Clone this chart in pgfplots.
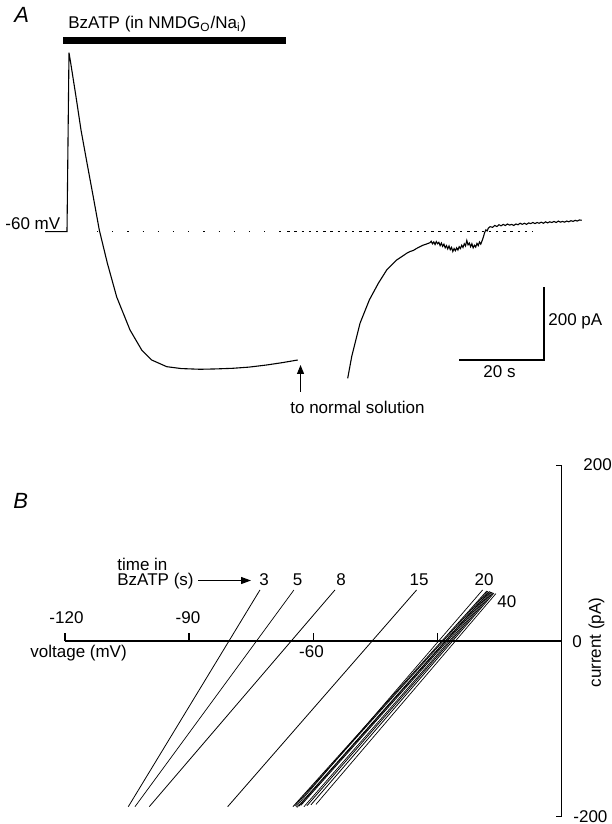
\documentclass[border=0pt]{standalone}
\usepackage{fontspec}
\setmainfont{Liberation Sans}
\usepackage{pgfplots}
\pgfplotsset{compat=1.18}
\usetikzlibrary{arrows.meta}
\begin{document}
\begin{tikzpicture}[x=0.5pt,y=-0.5pt,font=\fontsize{8.5pt}{10pt}\selectfont]
\useasboundingbox (0,0) rectangle (611,824);
% ---------------- Panel A : current trace (t in s, I in pA) ----------------
\begin{axis}[at={(0pt,0pt)}, anchor=north west, scale only axis,
  width=305.5pt, height=215pt,
  xmin=-15.82, xmax=128.45, ymin=-541.1, ymax=632.2,
  hide axis, clip=false]
% BzATP application bar
\addplot[black, line width=3.5pt, line cap=butt] coordinates {(-0.94,521.7) (51.71,521.7)};
% holding level (-60 mV) reference, dotted
\addplot[black, line width=0.5pt, dash pattern=on 0.6pt off 7pt] coordinates {(7.08,0) (52,0)};
\addplot[black, line width=0.5pt, dash pattern=on 1.2pt off 2.4pt] coordinates {(52,0) (110.04,0)};
% trace during BzATP
\addplot[black, line width=0.55pt] coordinates {
(-5.19,0) (0,0) (0.47,488.4) (0.874,460.3) (2.125,368.3) (3.306,277.5)
(4.722,187.4) (6.210,94.7) (7.627,4.6) (9.516,-85.4) (11.736,-178.2)
(14.876,-268.2) (17.639,-322.8) (20.0,-350.1) (23.542,-368.3)
(27.0,-373.5) (31.405,-375.4) (35.0,-374.5) (39.197,-372.7) (43.0,-369.5)
(47.155,-363.7) (51.0,-357.0) (54.475,-350.1)};
% trace after return to normal solution
\addplot[black, line width=0.55pt] coordinates {
(66.28,-400.0) (67.22,-341.1) (69.19,-249.9) (71.38,-186.4) (73.51,-140.8)
(75.49,-104.5) (77.85,-77.2) (80.21,-58.9) (81.0,-54) (81.8,-51) (82.5,-46)
(83.35,-40.9) (84.0,-37) (84.8,-34) (85.71,-30.0)
(86.0,-26) (86.3,-33) (86.6,-28) (86.9,-35) (87.2,-27) (87.5,-33) (87.8,-29)
(88.1,-38) (88.4,-31) (88.7,-40) (89.0,-34) (89.3,-44) (89.6,-38) (89.9,-47)
(90.2,-39) (90.5,-49) (90.8,-43) (91.1,-54) (91.4,-46) (91.7,-52) (92.0,-44)
(92.3,-50) (92.6,-41) (92.9,-46) (93.2,-37) (93.5,-43) (93.8,-33) (94.1,-39)
(94.4,-24) (94.7,-36) (95.0,-31) (95.3,-41) (95.6,-33) (95.9,-44) (96.2,-37)
(96.5,-42) (96.8,-32) (97.1,-38) (97.4,-28) (97.7,-34) (98.0,-25) (98.3,-15)
(98.6,-3) (98.9,5) (99.2,2) (99.5,10) (99.9,13.6)
(100.5,12) (101.0,17) (101.5,14) (102.0,19) (102.5,16) (103.0,20) (103.5,17)
(104.0,21) (104.5,18) (105.0,20) (105.5,17) (106.0,21) (106.5,19) (107.0,23)
(107.5,20) (108.0,23) (108.5,20) (109.0,24) (109.5,22) (110.0,25) (110.5,22)
(111.0,25) (111.5,23) (112.0,26) (112.5,23) (113.0,27) (113.5,24) (114.0,27)
(114.5,25) (115.0,28) (115.5,25) (116.0,29) (116.5,26) (117.0,28) (117.5,26)
(118.0,29) (118.5,27) (119.0,30) (119.5,28) (120.0,31) (120.5,29) (121.0,32) (121.53,31)};
% scale bars
\addplot[black, line width=1pt] coordinates {(92.63,-350.1) (112.63,-350.1) (112.63,-150.1)};
% arrow "to normal solution"
\addplot[black, line width=0.5pt, -{Triangle[length=4.5pt,width=3.5pt]}] coordinates {(55.14,-436.6) (55.14,-363.7)};
\end{axis}
% ---------------- Panel B : I-V ramps (V in mV, I in pA) ----------------
\begin{axis}[at={(32.5pt,-232.65pt)}, anchor=north west, scale only axis,
  width=248.35pt, height=175.7pt,
  xmin=-120, xmax=0, ymin=-200, ymax=200,
  hide axis, clip=false,
  cycle list={{black, line width=0.35pt, mark=none}}]
\draw[line width=0.7pt] (axis cs:-120,0) -- (axis cs:0,0);
\draw[line width=0.7pt] (axis cs:0,-200) -- (axis cs:0,200);
\draw[line width=0.7pt] (axis cs:-120,0) -- ++(0pt,3.85pt);
\draw[line width=0.7pt] (axis cs:-90,0) -- ++(0pt,3.85pt);
\draw[line width=0.7pt] (axis cs:-60,0) -- ++(0pt,3.85pt);
\draw[line width=0.7pt] (axis cs:-30,0) -- ++(0pt,3.85pt);
\draw[line width=0.7pt] (axis cs:0,200) -- ++(-3pt,0pt);
\draw[line width=0.7pt] (axis cs:0,-200) -- ++(-3pt,0pt);
% 3 s
\addplot coordinates {(-72.90,58.1) (-104.71,-188.6)};
% 5 s
\addplot coordinates {(-64.69,58.1) (-103.09,-188.6)};
% 8 s
\addplot coordinates {(-54.78,58.1) (-99.64,-188.6)};
% 15 s
\addplot coordinates {(-35.05,58.1) (-80.70,-188.6)};
% 20 s
\addplot coordinates {(-19.11,58.1) (-64.20,-188.6)};
% later ramps up to 40 s
\addplot coordinates {(-18.07,57.0) (-64.93,-188.6)};
\addplot coordinates {(-17.83,56.5) (-64.44,-187.5)};
\addplot coordinates {(-17.58,56.0) (-63.96,-189.5)};
\addplot coordinates {(-17.34,56.5) (-63.48,-188.0)};
\addplot coordinates {(-17.10,55.8) (-63.00,-187.0)};
\addplot coordinates {(-16.86,55.5) (-62.27,-188.6)};
\addplot coordinates {(-16.62,55.0) (-61.55,-187.5)};
\addplot coordinates {(-16.38,54.5) (-60.58,-186.5)};
\addplot coordinates {(-15.89,54.0) (-59.37,-186.0)};
\end{axis}
% ---------------- text, panel A ----------------
\node[anchor=base west, inner sep=0pt, font=\fontsize{11pt}{13pt}\selectfont\itshape] at (14,23) {A};
\node[anchor=base west, inner sep=0pt] at (68,28.3) {BzATP (in NMDG\textsubscript{O}/Na\textsubscript{i})};
\node[anchor=base west, inner sep=0pt] at (5,229) {-60 mV};
\node[anchor=base west, inner sep=0pt] at (290,413) {to normal solution};
\node[anchor=base west, inner sep=0pt] at (548,325) {200 pA};
\node[anchor=base west, inner sep=0pt] at (483,377) {20 s};
% ---------------- text, panel B ----------------
\node[anchor=base west, inner sep=0pt, font=\fontsize{11pt}{13pt}\selectfont\itshape] at (13,508) {B};
\node[anchor=base west, inner sep=0pt] at (117,570) {time in};
\node[anchor=base west, inner sep=0pt] at (117,585) {BzATP (s)};
\draw[line width=0.6pt, -{Triangle[length=5pt,width=3.5pt]}] (198,580.5) -- (251,580.5);
\node[anchor=base, inner sep=0pt] at (264,585) {3};
\node[anchor=base, inner sep=0pt] at (297.5,585) {5};
\node[anchor=base, inner sep=0pt] at (341,585) {8};
\node[anchor=base, inner sep=0pt] at (419,585) {15};
\node[anchor=base, inner sep=0pt] at (484,585) {20};
\node[anchor=base west, inner sep=0pt] at (497,607) {40};
\node[anchor=base, inner sep=0pt] at (66.5,623) {-120};
\node[anchor=base, inner sep=0pt] at (188,623) {-90};
\node[anchor=base, inner sep=0pt] at (311.5,657) {-60};
\node[anchor=base west, inner sep=0pt] at (30,657) {voltage (mV)};
\node[anchor=base west, inner sep=0pt] at (572,647) {0};
\node[anchor=base west, inner sep=0pt] at (583,470) {200};
\node[anchor=base west, inner sep=0pt] at (573,822) {-200};
\node[rotate=90, inner sep=0pt] at (596.5,642.5) {current (pA)};
\end{tikzpicture}
\end{document}
